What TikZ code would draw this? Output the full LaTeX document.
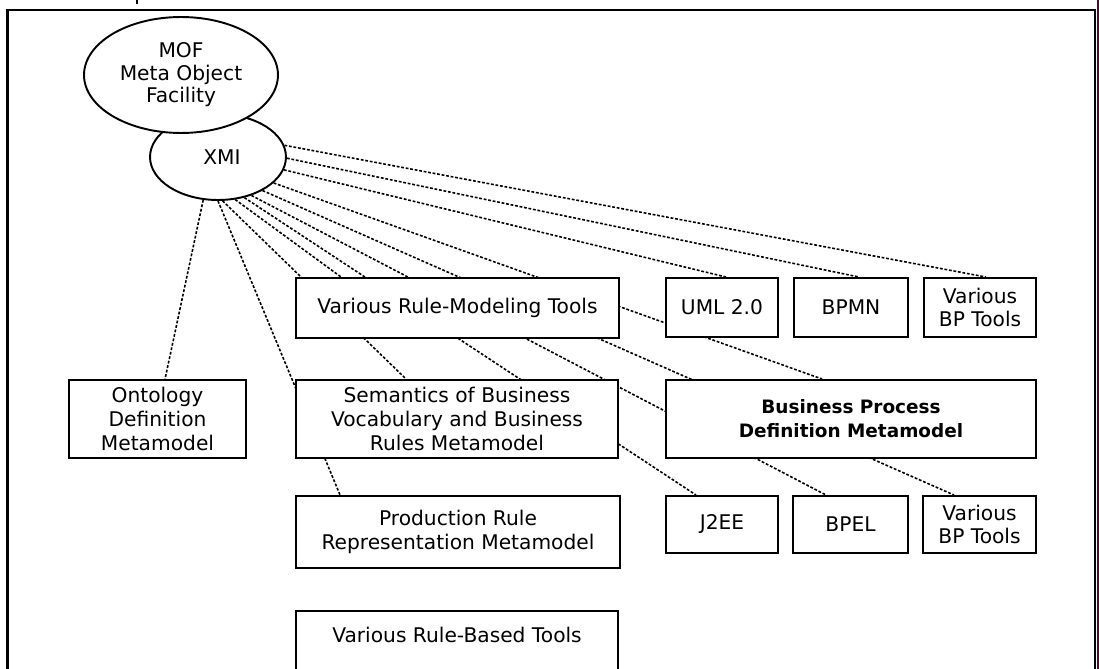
\documentclass[tikz,border=0pt]{standalone}
\usepackage{fontspec}
\setmainfont{DejaVu Sans}
\usetikzlibrary{shapes.geometric,backgrounds,calc}
\definecolor{edgemaroon}{RGB}{96,0,48}

\begin{document}
\begin{tikzpicture}[x=0.02cm, y=-0.02cm,
  box/.style={draw, line width=1.1pt, fill=white, align=center, inner sep=0pt,
    font=\fontsize{11.5}{13.4}\selectfont},
  cloud/.style={ellipse, draw, line width=1.1pt, fill=white, align=center, inner sep=0pt,
    font=\fontsize{11.5}{12.8}\selectfont},
  link/.style={line width=0.9pt, dash pattern=on 1.6pt off 1pt}]
  \path[use as bounding box, clip] (0,0) rectangle (1099,669);

  % frame
  \draw[line width=1.6pt] (7.5,700) -- (7.5,10) -- (1095,10) -- (1095,700);
  \fill[edgemaroon] (1096.5,0) rectangle (1099,669);
  \coordinate (tickup) at (137,0);
  \coordinate (tickdown) at (137,4);
  \draw[line width=1.1pt] (tickup) -- (tickdown);

  \node[cloud, minimum width=2.72cm, minimum height=1.72cm] (xmi) at (218,157) {\hspace*{0.16cm}XMI};
  \node[cloud, minimum width=3.88cm, minimum height=2.32cm] (mof) at (181,75) {MOF\\Meta Object\\Facility};

  \node[box, minimum width=6.46cm, minimum height=1.2cm] (vrmt) at (457.5,308) {Various Rule-Modeling Tools};
  \node[box, minimum width=2.24cm, minimum height=1.18cm] (uml) at (722,307.5) {UML 2.0};
  \node[box, minimum width=2.28cm, minimum height=1.18cm] (bpmn) at (851,307.5) {BPMN};
  \node[box, minimum width=2.24cm, minimum height=1.18cm] (vbp1) at (980,307.5) {Various\\BP Tools};

  \node[box, minimum width=3.54cm, minimum height=1.56cm] (ont) at (157.5,419) {Ontology\\Definition\\Metamodel};
  \node[box, minimum width=6.44cm, minimum height=1.56cm] (sem) at (457,419)
    {Semantics of Business\\Vocabulary and Business\\Rules Metamodel};
  \node[box, minimum width=7.4cm, minimum height=1.56cm, font=\bfseries\fontsize{10.5}{13.7}\selectfont] (bpdm) at (851,419)
    {Business Process\\Definition Metamodel};

  \node[box, minimum width=6.48cm, minimum height=1.44cm] (prod) at (458,532) {Production Rule\\Representation Metamodel};
  \node[box, minimum width=2.24cm, minimum height=1.14cm] (j2ee) at (722,524.5) {J2EE};
  \node[box, minimum width=2.3cm, minimum height=1.14cm] (bpel) at (850.5,524.5) {BPEL};
  \node[box, minimum width=2.26cm, minimum height=1.14cm] (vbp2) at (979.5,524.5) {Various\\BP Tools};

  \node[box, anchor=north, minimum width=6.44cm, text height=0.64cm, text depth=1.2cm] (vrbt) at (457,610)
    {Various Rule-Based Tools};

  % XMI fan, behind the boxes
  \begin{scope}[on background layer]
    \foreach \ang/\tgt/\off in {-109/ont/97, -90/prod/45, -84/sem/111, -68/vrmt/46, -57/j2ee/31,
        -49/bpel/34, -37/vbp2/32, -25/bpdm/157, -11/uml/61, -1/bpmn/66, 10/vbp1/63}
      \draw[link] (xmi.\ang) -- ($(\tgt.north west)+(\off,0)$);
  \end{scope}
\end{tikzpicture}
\end{document}
